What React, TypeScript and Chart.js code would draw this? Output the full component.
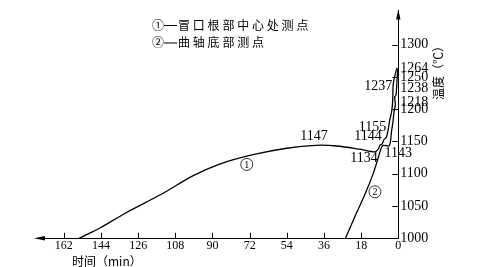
import React, { useEffect, useRef } from "react";
import { Chart, registerables } from "chart.js";

Chart.register(...registerables);

// ---- data ----
const xTickValues = [0, 18, 36, 54, 72, 90, 108, 126, 144, 162];
const yTickValues = [1000, 1050, 1100, 1150, 1200, 1250, 1300];
const yPeakLabels = [1264, 1238, 1218];

// curve ① : time (min before end), temperature (°C)
const curve1Time = [154.7, 144.5, 131.6, 115.5, 99.3, 86.5, 70.4, 54.1, 40, 29.8, 18.6, 11.3, 9.7, 8.9, 7.9, 6.9, 5.7, 4.6, 4.1, 3.7, 3.1, 2.7, 2.6, 2.5, 2.2, 1.1, 0.5];
const curve1Temp = [1000, 1016, 1040, 1067, 1097, 1115, 1129.5, 1139.5, 1144, 1143, 1138, 1134, 1138, 1144, 1146, 1153, 1157, 1174, 1184, 1189, 1199, 1214, 1230, 1237, 1244, 1259, 1264];

// curve ② : time, temperature
const curve2Time = [25.6, 20.7, 16.1, 12.3, 9.6, 8.1, 7.2, 4.5, 3.8, 3.3, 2.6, 2.1, 1.45, 1.74, 1.1, 0.63, 0.29, 0.1];
const curve2Temp = [1000, 1036, 1068.5, 1099, 1126, 1141, 1144, 1143, 1150, 1165, 1180, 1195, 1207, 1219, 1222, 1244, 1259, 1263];

// value annotations: text and the data point they describe
const valueLabelText = ["1147", "1134", "1144", "1155", "1143", "1237"];
const valueLabelTime = [40.8, 11.3, 8.9, 5.7, 5.8, 2.5];
const valueLabelTemp = [1143, 1134, 1144, 1157, 1143, 1237];

const legendLines = ["①—冒口根部中心处测点", "②—曲轴底部测点"];
const xTitle = "时间（min）";
const yTitle = "温度（℃）";

// curve markers (data position of the circled numbers)
const markerText = ["1", "2"];
const markerTime = [73.4, 11.3];
const markerTemp = [1114.5, 1072];

const SERIF = "'Liberation Serif', 'DejaVu Serif', serif";
const CJK = "'Noto Sans CJK SC', sans-serif";

// pixel offsets (style) for value labels
const valueLabelOffsets: [number, number][] = [
  [0, -10],
  [-11, 7],
  [-12, -9],
  [-14, -10],
  [12, 7],
  [-15, 1],
];
const peakLabelDy = [0, 3.5, 5];

const overlayPlugin = {
  id: "overlay",
  afterDraw(chart: any) {
    const ctx = chart.ctx as CanvasRenderingContext2D;
    const xs = chart.scales.x;
    const ys = chart.scales.y;
    const area = chart.chartArea;
    const axisX = xs.getPixelForValue(0);
    const axisY = ys.getPixelForValue(1000);
    ctx.save();
    ctx.strokeStyle = "#000";
    ctx.fillStyle = "#000";
    ctx.lineWidth = 1;

    // inward tick marks
    ctx.beginPath();
    xTickValues.forEach((v) => {
      if (v === 0) return;
      const px = Math.round(xs.getPixelForValue(v)) + 0.5;
      ctx.moveTo(px, axisY);
      ctx.lineTo(px, axisY - 5.5);
    });
    yTickValues.forEach((v) => {
      if (v === 1000) return;
      const py = Math.round(ys.getPixelForValue(v)) + 0.5;
      ctx.moveTo(axisX, py);
      ctx.lineTo(axisX - 6, py);
    });
    ctx.stroke();

    // arrow heads
    ctx.beginPath();
    ctx.moveTo(area.left - 3, axisY);
    ctx.lineTo(area.left + 8, axisY - 2.2);
    ctx.lineTo(area.left + 8, axisY + 2.2);
    ctx.closePath();
    ctx.fill();
    ctx.beginPath();
    ctx.moveTo(axisX, area.top - 1);
    ctx.lineTo(axisX - 2.2, area.top + 9);
    ctx.lineTo(axisX + 2.2, area.top + 9);
    ctx.closePath();
    ctx.fill();

    // peak labels on the right of the axis
    ctx.font = `14px ${SERIF}`;
    ctx.textAlign = "left";
    ctx.textBaseline = "middle";
    yPeakLabels.forEach((v, i) => {
      ctx.fillText(String(v), axisX + 2, ys.getPixelForValue(v) + peakLabelDy[i]);
    });

    // value labels
    ctx.textAlign = "center";
    valueLabelText.forEach((t, i) => {
      const px = xs.getPixelForValue(valueLabelTime[i]) + valueLabelOffsets[i][0];
      const py = ys.getPixelForValue(valueLabelTemp[i]) + valueLabelOffsets[i][1];
      ctx.fillText(t, px, py);
    });

    // circled markers
    markerText.forEach((t, i) => {
      const px = xs.getPixelForValue(markerTime[i]);
      const py = ys.getPixelForValue(markerTemp[i]);
      ctx.beginPath();
      ctx.lineWidth = 0.8;
      ctx.arc(px, py, 6, 0, Math.PI * 2);
      ctx.stroke();
      ctx.font = `10px ${SERIF}`;
      ctx.fillText(t, px, py + 0.5);
    });

    // legend text
    ctx.textAlign = "left";
    ctx.font = `12px ${CJK}`;
    legendLines.forEach((line, li) => {
      let x = 152;
      const y = 25 + li * 17.5;
      Array.from(line).forEach((ch, ci) => {
        if (ch === "—") {
          ctx.fillRect(x + 1, y, 13, 1);
          x += 15;
          return;
        }
        ctx.fillText(ch, x, y);
        x += ci === 0 ? 11 : 14.8;
      });
    });

    // x title
    ctx.font = `12px ${CJK}`;
    ctx.fillText(xTitle, 72, 261.5);

    // y title (rotated, reading bottom to top)
    ctx.translate(438.5, 70);
    ctx.rotate(-Math.PI / 2);
    ctx.textAlign = "center";
    ctx.fillText(yTitle, 0, 0);
    ctx.restore();
  },
};

export default function App() {
  const ref = useRef<HTMLCanvasElement | null>(null);
  useEffect(() => {
    document.body.style.margin = "0";
    const canvas = ref.current;
    if (!canvas) return;
    const chart = new Chart(canvas, {
      type: "line",
      data: {
        datasets: [
          {
            label: "①",
            data: curve1Time.map((t, i) => ({ x: t, y: curve1Temp[i] })),
            borderColor: "#000",
            borderWidth: 1.3,
            pointRadius: 0,
            tension: 0.3,
            fill: false,
          },
          {
            label: "②",
            data: curve2Time.map((t, i) => ({ x: t, y: curve2Temp[i] })),
            borderColor: "#000",
            borderWidth: 1.3,
            pointRadius: 0,
            tension: 0.3,
            fill: false,
          },
        ],
      },
      options: {
        animation: false,
        responsive: false,
        devicePixelRatio: 1,
        layout: { padding: { left: 37, top: 2, right: 0, bottom: 0 } },
        plugins: { legend: { display: false }, tooltip: { enabled: false } },
        scales: {
          x: {
            type: "linear",
            reverse: true,
            min: 0,
            max: 175,
            afterBuildTicks: (s: any) => {
              s.ticks = xTickValues.map((v) => ({ value: v }));
            },
            afterFit: (s: any) => {
              s.height = 28.7;
            },
            ticks: {
              color: "#000",
              font: { family: SERIF, size: 12 },
              padding: 0,
              maxRotation: 0,
              autoSkip: false,
              callback: (v: any) => String(v),
            },
            grid: { display: false, drawTicks: false },
            border: { display: true, color: "#000", width: 1 },
          },
          y: {
            type: "linear",
            position: "right",
            min: 1000,
            max: 1353,
            afterBuildTicks: (s: any) => {
              s.ticks = yTickValues.map((v) => ({ value: v }));
            },
            afterFit: (s: any) => {
              s.width = 98.7;
            },
            ticks: {
              color: "#000",
              font: { family: SERIF, size: 14 },
              padding: 2,
              autoSkip: false,
              callback: (v: any) => String(v),
            },
            grid: { display: false, drawTicks: false },
            border: { display: true, color: "#000", width: 1 },
          },
        },
      },
      plugins: [overlayPlugin],
    });
    return () => chart.destroy();
  }, []);
  return (
    <div style={{ position: "relative", width: 497, height: 267 }}>
      <canvas ref={ref} width={497} height={267} />
    </div>
  );
}
